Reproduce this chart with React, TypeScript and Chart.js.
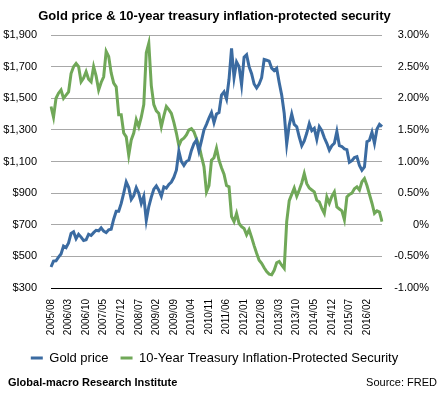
import React, { useEffect, useRef } from 'react';
import { Chart, registerables } from 'chart.js';

Chart.register(...registerables);

const TITLE = 'Gold price & 10-year treasury inflation-protected security';
const GOLD_LABEL = 'Gold price';
const TIPS_LABEL = '10-Year Treasury Inflation-Protected Security';
const FOOTER_LEFT = 'Global-macro Research Institute';
const FOOTER_RIGHT = 'Source: FRED';

// Monthly categories 2005/08 .. 2016/08
const START_YEAR = 2005;
const START_MONTH = 8;
const MONTH_COUNT = 133;
const MONTHS: string[] = [];
for (let k = 0; k < MONTH_COUNT; k++) {
  const m = START_MONTH - 1 + k;
  const y = START_YEAR + Math.floor(m / 12);
  const mm = (m % 12) + 1;
  MONTHS.push(`${y}/${mm < 10 ? '0' + mm : mm}`);
}
const TICK_LABELS = [
  '2005/08', '2006/03', '2006/10', '2007/05', '2007/12', '2008/07', '2009/02',
  '2009/09', '2010/04', '2010/11', '2011/06', '2012/01', '2012/08', '2013/03',
  '2013/10', '2014/05', '2014/12', '2015/07', '2016/02',
];

// Gold price, US$
const GOLD = [
  433, 470, 472, 495, 515,
  565, 555, 585, 645, 655, 612, 640, 622, 600, 605, 640, 632,
  650, 665, 662, 680, 660, 650, 668, 672, 735, 785, 785, 835,
  900, 970, 935, 860, 885, 935, 900, 835, 880, 728, 815, 875,
  925, 945, 918, 880, 940, 932, 955, 970, 1000, 1045, 1165, 1100,
  1075, 1100, 1110, 1170, 1212, 1235, 1165, 1230, 1300, 1335, 1375, 1410,
  1345, 1400, 1410, 1520, 1540, 1495, 1620, 1815, 1630, 1730, 1700, 1585,
  1760, 1775, 1700, 1655, 1590, 1565, 1590, 1630, 1745, 1740, 1735, 1690,
  1675, 1690, 1600, 1520, 1405, 1210, 1330, 1400, 1335, 1320, 1255, 1200,
  1230, 1280, 1340, 1295, 1310, 1240, 1320, 1295, 1250, 1215, 1172, 1200,
  1215, 1290, 1200, 1195, 1180, 1175, 1095, 1105, 1125, 1130, 1075, 1045,
  1065, 1225, 1235, 1285, 1215, 1305, 1335, 1320,
];

// 10-year TIPS yield, %
const TIPS = [
  1.87, 1.70, 2.00, 2.08, 2.13,
  2.00, 2.05, 2.10, 2.39, 2.50, 2.55, 2.50, 2.26, 2.32, 2.42, 2.30, 2.26,
  2.50, 2.35, 2.13, 2.25, 2.34, 2.74, 2.66, 2.40, 2.24, 2.18, 1.74, 1.74,
  1.45, 1.39, 1.10, 1.34, 1.45, 1.66, 1.55, 1.70, 1.90, 2.72, 2.87, 2.20,
  1.90, 1.80, 1.76, 1.55, 1.72, 1.87, 1.82, 1.76, 1.62, 1.45, 1.25, 1.34,
  1.37, 1.42, 1.50, 1.52, 1.47, 1.36, 1.26, 1.08, 0.92, 0.52, 0.62, 1.02,
  1.06, 1.21, 1.02, 0.90, 0.80, 0.62, 0.60, 0.13, 0.05, 0.18, 0.02, -0.03,
  -0.06, -0.16, -0.08, -0.20, -0.33, -0.45, -0.56, -0.61, -0.68, -0.74, -0.78, -0.79,
  -0.72, -0.60, -0.58, -0.64, -0.69, 0.05, 0.38, 0.48, 0.58, 0.45, 0.55, 0.66,
  0.81, 0.65, 0.58, 0.55, 0.52, 0.39, 0.36, 0.26, 0.18, 0.44, 0.34, 0.45,
  0.52, 0.28, 0.25, 0.22, 0.08, 0.44, 0.48, 0.50, 0.57, 0.60, 0.55, 0.68,
  0.73, 0.62, 0.48, 0.34, 0.18, 0.22, 0.20, 0.05,
];

const GOLD_MIN = 300;
const GOLD_MAX = 1900;
const GOLD_STEP = 200;
const TIPS_MIN = -1;
const TIPS_MAX = 3;
const TIPS_STEP = 0.5;

const BLUE = '#3b6ba1';
const GREEN = '#70a858';
const GRID = '#a8a8a8';

function fmtGold(v: number) {
  const s = String(Math.round(v));
  return '$' + (s.length > 3 ? s.slice(0, s.length - 3) + ',' + s.slice(s.length - 3) : s);
}

// Grid lines drawn behind the series, plus the footer texts
const extrasPlugin = {
  id: 'extras',
  afterDatasetsDraw(chart: any) {
    const { ctx, scales } = chart;
    const ys = scales.y;
    const xs = scales.x;
    if (!ys || !xs) return;
    const left = Math.round(xs.left);
    const right = Math.round(xs.right);
    ctx.save();
    ctx.globalCompositeOperation = 'destination-over';
    ctx.setLineDash([]);
    ctx.lineWidth = 1;
    ys.ticks.forEach((t: any) => {
      const p = ys.getPixelForValue(t.value);
      if (!isFinite(p)) return;
      const py = Math.round(p - 0.5) + 0.5;
      ctx.strokeStyle = t.value === GOLD_MIN ? '#000' : GRID;
      ctx.beginPath();
      ctx.moveTo(left, py);
      ctx.lineTo(right, py);
      ctx.stroke();
    });
    ctx.restore();
  },
  afterDraw(chart: any) {
    const { ctx, width } = chart;
    ctx.save();
    ctx.fillStyle = '#000';
    ctx.textBaseline = 'middle';
    ctx.font = "bold 11px 'Helvetica Neue', Helvetica, Arial, sans-serif";
    ctx.textAlign = 'left';
    ctx.fillText(FOOTER_LEFT, 8, 383);
    ctx.font = "11px 'Helvetica Neue', Helvetica, Arial, sans-serif";
    ctx.textAlign = 'right';
    ctx.fillText(FOOTER_RIGHT, width - 4, 383);
    ctx.restore();
  },
};

export default function App() {
  const ref = useRef<HTMLCanvasElement | null>(null);

  useEffect(() => {
    if (!ref.current) return;
    const chart = new Chart(ref.current, {
      type: 'line',
      plugins: [extrasPlugin],
      data: {
        labels: MONTHS,
        datasets: [
          {
            label: GOLD_LABEL,
            data: GOLD,
            yAxisID: 'y',
            borderColor: BLUE,
            borderWidth: 3,
            pointRadius: 0,
          },
          {
            label: TIPS_LABEL,
            data: TIPS,
            yAxisID: 'y1',
            borderColor: GREEN,
            borderWidth: 3,
            pointRadius: 0,
          },
        ],
      },
      options: {
        animation: false,
        responsive: false,
        maintainAspectRatio: false,
        layout: { padding: { left: 0, right: 12, top: 0, bottom: 22.5 } },
        plugins: {
          title: {
            display: true,
            text: TITLE,
            color: '#000',
            font: { size: 13, weight: 'bold' },
            padding: { top: 9, bottom: 10.4 },
          },
          legend: {
            position: 'bottom',
            labels: {
              boxWidth: 12,
              boxHeight: 3,
              padding: 12,
              color: '#000',
              font: { size: 13 },
              generateLabels: (c: any) =>
                c.data.datasets.map((ds: any, i: number) => ({
                  text: ds.label,
                  fillStyle: ds.borderColor,
                  strokeStyle: ds.borderColor,
                  lineWidth: 0,
                  hidden: false,
                  datasetIndex: i,
                  fontColor: '#000',
                })),
            },
          },
          tooltip: { enabled: false },
        },
        scales: {
          x: {
            grid: { display: false, drawTicks: false },
            border: { display: false },
            ticks: {
              autoSkip: false,
              minRotation: 90,
              maxRotation: 90,
              padding: 11,
              color: '#000',
              font: { size: 10 },
              callback: (_v: any, i: number) =>
                TICK_LABELS.indexOf(MONTHS[i]) >= 0 ? MONTHS[i] : '',
            },
            afterFit: (s: any) => {
              s.height = 51.5;
            },
          },
          y: {
            position: 'left',
            min: GOLD_MIN,
            max: GOLD_MAX,
            grid: {
              drawTicks: false,
              lineWidth: 1,
              color: (c: any) => (c.tick && c.tick.value === GOLD_MIN ? '#000' : GRID),
            },
            border: { display: false },
            ticks: {
              stepSize: GOLD_STEP,
              padding: 14,
              color: '#000',
              font: { size: 11 },
              callback: (v: any) => fmtGold(Number(v)),
            },
            afterFit: (s: any) => {
              s.width = 51;
            },
          },
          y1: {
            position: 'right',
            min: TIPS_MIN,
            max: TIPS_MAX,
            grid: { display: false, drawTicks: false },
            border: { display: false },
            ticks: {
              stepSize: TIPS_STEP,
              crossAlign: 'far',
              color: '#000',
              font: { size: 11 },
              callback: (v: any) => (Number(v) === 0 ? '0%' : Number(v).toFixed(2) + '%'),
            },
            afterFit: (s: any) => {
              s.width = 47;
            },
          },
        },
      },
    } as any);
    return () => chart.destroy();
  }, []);

  return (
    <div style={{ position: 'fixed', left: 0, top: 0, width: 441, height: 397, background: '#fff' }}>
      <canvas ref={ref} width={441} height={397} style={{ width: 441, height: 397, display: 'block' }} />
    </div>
  );
}
